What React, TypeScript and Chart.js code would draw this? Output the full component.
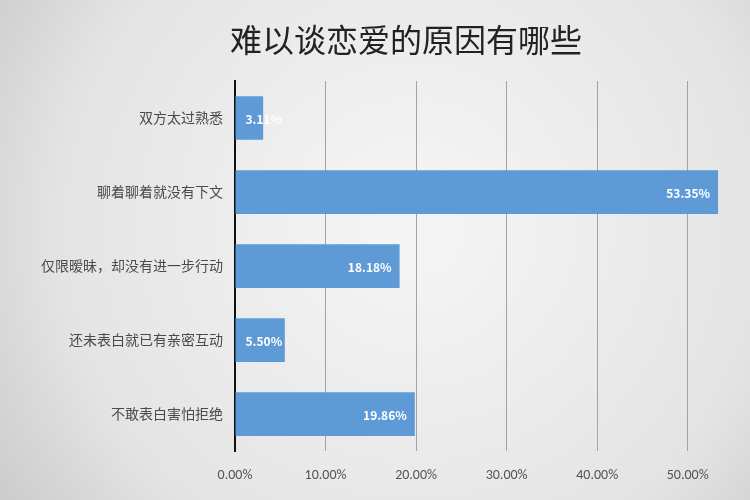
import { useEffect, useRef } from 'react';
import { Chart, registerables } from 'chart.js';

Chart.register(...registerables);

const title = '难以谈恋爱的原因有哪些';
const categories = [
  '双方太过熟悉',
  '聊着聊着就没有下文',
  '仅限暧昧，却没有进一步行动',
  '还未表白就已有亲密互动',
  '不敢表白害怕拒绝',
];
const values = [3.11, 53.35, 18.18, 5.5, 19.86];
const tickValues = [0, 10, 20, 30, 40, 50];

const cjk = '"Noto Sans CJK SC", "Noto Sans", sans-serif';

const backgroundPlugin = {
  id: 'bg',
  beforeDraw(chart: any) {
    const { ctx, width, height } = chart;
    const g = ctx.createRadialGradient(width * 0.55, height * 0.45, 40, width * 0.55, height * 0.45, width * 0.75);
    g.addColorStop(0, '#f4f4f4');
    g.addColorStop(0.6, '#e4e4e4');
    g.addColorStop(1, '#c0c0c0');
    ctx.save();
    ctx.fillStyle = g;
    ctx.fillRect(0, 0, width, height);
    ctx.restore();
  },
};

const titlePlugin = {
  id: 'titleText',
  afterDraw(chart: any) {
    const { ctx } = chart;
    ctx.save();
    ctx.font = `32px ${cjk}`;
    ctx.fillStyle = '#222';
    ctx.textAlign = 'center';
    ctx.textBaseline = 'middle';
    ctx.fillText(title, 406, 40);
    ctx.restore();
  },
};

const labelPlugin = {
  id: 'barLabels',
  afterDatasetsDraw(chart: any) {
    const { ctx } = chart;
    const meta = chart.getDatasetMeta(0);
    ctx.save();
    ctx.font = `bold 12px ${cjk}`;
    ctx.fillStyle = '#ffffff';
    ctx.textBaseline = 'middle';
    ctx.textAlign = 'left';
    meta.data.forEach((bar: any, i: number) => {
      const text = values[i].toFixed(2) + '%';
      const w = ctx.measureText(text).width;
      const x = Math.max(bar.x - 8 - w, bar.base + 10);
      ctx.fillText(text, x, bar.y + 1);
    });
    ctx.restore();
  },
};

export default function App() {
  const canvasRef = useRef<HTMLCanvasElement | null>(null);

  useEffect(() => {
    document.body.style.margin = '0';
    if (!canvasRef.current) return;

    const chart = new Chart(canvasRef.current, {
      type: 'bar',
      data: {
        labels: categories,
        datasets: [
          {
            data: values,
            backgroundColor: '#5e9bd6',
            barPercentage: 0.59,
            categoryPercentage: 1,
          },
        ],
      },
      options: {
        indexAxis: 'y',
        animation: false,
        responsive: false,
        layout: { padding: { top: 81, right: 17, bottom: 0, left: 0 } },
        plugins: {
          legend: { display: false },
          tooltip: { enabled: false },
        },
        scales: {
          x: {
            min: 0,
            max: 55,
            afterBuildTicks: (scale: any) => {
              scale.ticks = tickValues.map((v) => ({ value: v }));
            },
            grid: { color: '#a3a3a3', lineWidth: 1, drawTicks: false },
            border: { display: false },
            ticks: {
              padding: 16,
              color: '#555555',
              font: { family: 'Calibri, "Liberation Sans", sans-serif', size: 14 },
              callback: (v: any) => Number(v).toFixed(2) + '%',
            },
          },
          y: {
            afterFit: (scale: any) => {
              scale.width = 235;
            },
            grid: { display: false, drawTicks: false },
            border: { display: true, color: '#111111', width: 2 },
            ticks: {
              padding: 12,
              color: '#4a4a4a',
              font: { family: cjk, size: 14 },
            },
          },
        },
      },
      plugins: [backgroundPlugin, labelPlugin, titlePlugin],
    });

    return () => chart.destroy();
  }, []);

  return (
    <div style={{ width: 750, height: 500 }}>
      <canvas ref={canvasRef} width={750} height={500} aria-label={title} />
    </div>
  );
}
